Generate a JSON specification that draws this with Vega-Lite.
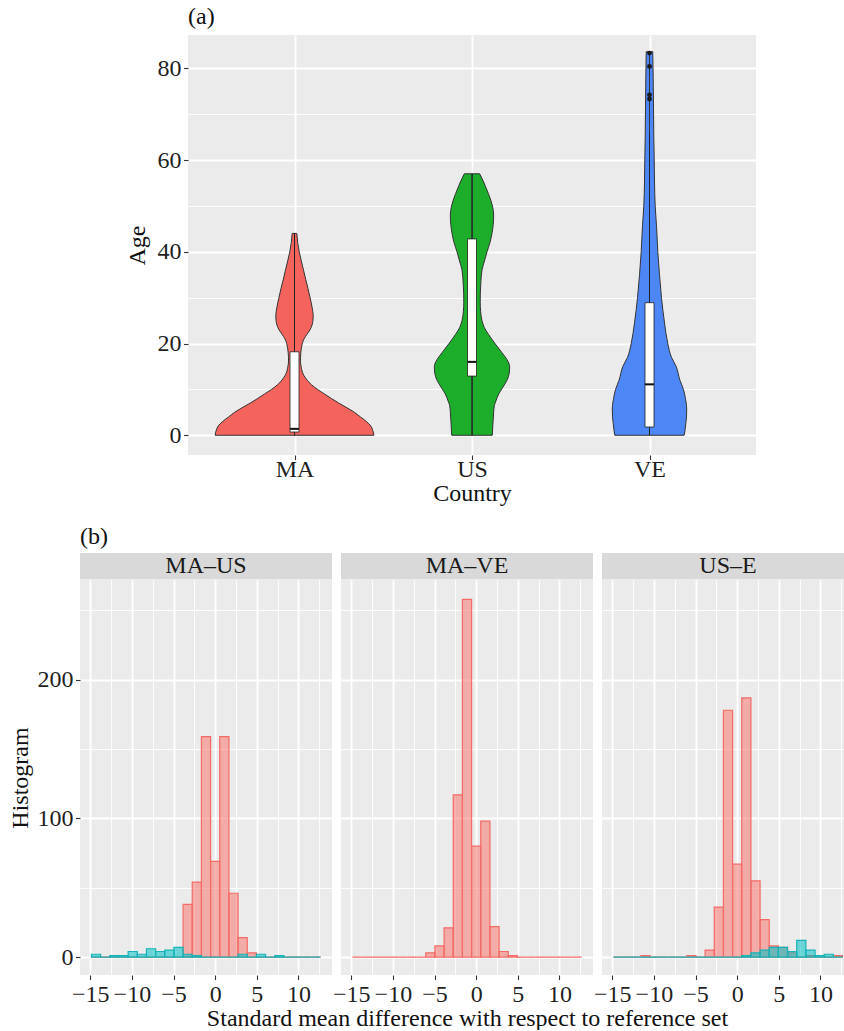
{
 "$schema": "https://vega.github.io/schema/vega-lite/v6.json",
 "padding": 0,
 "autosize": {"type": "pad"},
 "background": "#FFFFFF",
 "datasets": {
  "violin": [
   {"country":"MA","age":0,"w":0.994},{"country":"MA","age":1,"w":0.981},{"country":"MA","age":2,"w":0.956},{"country":"MA","age":3,"w":0.9},{"country":"MA","age":4,"w":0.825},{"country":"MA","age":5,"w":0.75},{"country":"MA","age":6,"w":0.656},{"country":"MA","age":7,"w":0.556},{"country":"MA","age":8,"w":0.463},{"country":"MA","age":9,"w":0.375},{"country":"MA","age":10,"w":0.288},{"country":"MA","age":11,"w":0.213},{"country":"MA","age":12,"w":0.159},{"country":"MA","age":13,"w":0.119},{"country":"MA","age":14,"w":0.094},{"country":"MA","age":15,"w":0.083},{"country":"MA","age":16,"w":0.075},{"country":"MA","age":17,"w":0.075},{"country":"MA","age":18,"w":0.079},{"country":"MA","age":19,"w":0.086},{"country":"MA","age":20,"w":0.098},{"country":"MA","age":21,"w":0.119},{"country":"MA","age":22,"w":0.156},{"country":"MA","age":23,"w":0.194},{"country":"MA","age":24,"w":0.219},{"country":"MA","age":25,"w":0.231},{"country":"MA","age":26,"w":0.234},{"country":"MA","age":27,"w":0.229},{"country":"MA","age":28,"w":0.219},{"country":"MA","age":29,"w":0.208},{"country":"MA","age":30,"w":0.195},{"country":"MA","age":32,"w":0.169},{"country":"MA","age":34,"w":0.14},{"country":"MA","age":36,"w":0.113},{"country":"MA","age":38,"w":0.085},{"country":"MA","age":40,"w":0.059},{"country":"MA","age":42,"w":0.04},{"country":"MA","age":44,"w":0.029},
   {"country":"US","age":0,"w":0.254},{"country":"US","age":2,"w":0.26},{"country":"US","age":3.5,"w":0.266},{"country":"US","age":5,"w":0.271},{"country":"US","age":6.5,"w":0.28},{"country":"US","age":7.5,"w":0.3},{"country":"US","age":9,"w":0.334},{"country":"US","age":10.5,"w":0.388},{"country":"US","age":12,"w":0.438},{"country":"US","age":13.5,"w":0.466},{"country":"US","age":15,"w":0.471},{"country":"US","age":16.5,"w":0.438},{"country":"US","age":18,"w":0.375},{"country":"US","age":20,"w":0.288},{"country":"US","age":22,"w":0.206},{"country":"US","age":23.5,"w":0.154},{"country":"US","age":25,"w":0.125},{"country":"US","age":27,"w":0.108},{"country":"US","age":29,"w":0.103},{"country":"US","age":31,"w":0.104},{"country":"US","age":33,"w":0.11},{"country":"US","age":36,"w":0.125},{"country":"US","age":38,"w":0.156},{"country":"US","age":40,"w":0.188},{"country":"US","age":42,"w":0.225},{"country":"US","age":44,"w":0.25},{"country":"US","age":46,"w":0.266},{"country":"US","age":48,"w":0.271},{"country":"US","age":50,"w":0.256},{"country":"US","age":52.5,"w":0.209},{"country":"US","age":54.5,"w":0.163},{"country":"US","age":56,"w":0.125},{"country":"US","age":57,"w":0.096},
   {"country":"VE","age":0,"w":0.434},{"country":"VE","age":1,"w":0.444},{"country":"VE","age":2.5,"w":0.454},{"country":"VE","age":4,"w":0.463},{"country":"VE","age":5.5,"w":0.466},{"country":"VE","age":6.5,"w":0.463},{"country":"VE","age":8,"w":0.45},{"country":"VE","age":10,"w":0.425},{"country":"VE","age":12,"w":0.381},{"country":"VE","age":15,"w":0.334},{"country":"VE","age":17,"w":0.275},{"country":"VE","age":20,"w":0.229},{"country":"VE","age":24.5,"w":0.188},{"country":"VE","age":30,"w":0.15},{"country":"VE","age":35,"w":0.125},{"country":"VE","age":40,"w":0.104},{"country":"VE","age":45.5,"w":0.088},{"country":"VE","age":50,"w":0.071},{"country":"VE","age":55,"w":0.063},{"country":"VE","age":60,"w":0.059},{"country":"VE","age":65,"w":0.054},{"country":"VE","age":71.5,"w":0.05},{"country":"VE","age":78,"w":0.046},{"country":"VE","age":83.6,"w":0.041}
  ],
  "box": [
   {"country":"MA","lo":0,"q1":0.7,"med":1.4,"q3":18.2,"hi":44},
   {"country":"US","lo":0,"q1":12.9,"med":16,"q3":42.8,"hi":57},
   {"country":"VE","lo":0,"q1":1.8,"med":11.1,"q3":28.9,"hi":65.8}
  ],
  "out": [
   {"country":"VE","age":83.3},{"country":"VE","age":80.4},{"country":"VE","age":74.2},{"country":"VE","age":73.3}
  ],
  "hist": [
   {"pair":"MA–US","sample":"before","lo":-14.85,"hi":-13.75,"n":0},{"pair":"MA–US","sample":"before","lo":-13.75,"hi":-12.65,"n":0},{"pair":"MA–US","sample":"before","lo":-12.65,"hi":-11.55,"n":0},{"pair":"MA–US","sample":"before","lo":-11.55,"hi":-10.45,"n":0},{"pair":"MA–US","sample":"before","lo":-10.45,"hi":-9.35,"n":0},{"pair":"MA–US","sample":"before","lo":-9.35,"hi":-8.25,"n":0},{"pair":"MA–US","sample":"before","lo":-8.25,"hi":-7.15,"n":0},{"pair":"MA–US","sample":"before","lo":-7.15,"hi":-6.05,"n":0},{"pair":"MA–US","sample":"before","lo":-6.05,"hi":-4.95,"n":0},{"pair":"MA–US","sample":"before","lo":-4.95,"hi":-3.85,"n":0},{"pair":"MA–US","sample":"before","lo":-3.85,"hi":-2.75,"n":38},{"pair":"MA–US","sample":"before","lo":-2.75,"hi":-1.65,"n":54},{"pair":"MA–US","sample":"before","lo":-1.65,"hi":-0.55,"n":159},{"pair":"MA–US","sample":"before","lo":-0.55,"hi":0.55,"n":69},{"pair":"MA–US","sample":"before","lo":0.55,"hi":1.65,"n":159},{"pair":"MA–US","sample":"before","lo":1.65,"hi":2.75,"n":46},{"pair":"MA–US","sample":"before","lo":2.75,"hi":3.85,"n":14},{"pair":"MA–US","sample":"before","lo":3.85,"hi":4.95,"n":3},{"pair":"MA–US","sample":"before","lo":4.95,"hi":6.05,"n":0},{"pair":"MA–US","sample":"before","lo":6.05,"hi":7.15,"n":0},{"pair":"MA–US","sample":"before","lo":7.15,"hi":8.25,"n":0},{"pair":"MA–US","sample":"before","lo":8.25,"hi":9.35,"n":0},{"pair":"MA–US","sample":"before","lo":9.35,"hi":10.45,"n":0},{"pair":"MA–US","sample":"before","lo":10.45,"hi":11.55,"n":0},{"pair":"MA–US","sample":"before","lo":11.55,"hi":12.65,"n":0},
   {"pair":"MA–VE","sample":"before","lo":-14.85,"hi":-13.75,"n":0},{"pair":"MA–VE","sample":"before","lo":-13.75,"hi":-12.65,"n":0},{"pair":"MA–VE","sample":"before","lo":-12.65,"hi":-11.55,"n":0},{"pair":"MA–VE","sample":"before","lo":-11.55,"hi":-10.45,"n":0},{"pair":"MA–VE","sample":"before","lo":-10.45,"hi":-9.35,"n":0},{"pair":"MA–VE","sample":"before","lo":-9.35,"hi":-8.25,"n":0},{"pair":"MA–VE","sample":"before","lo":-8.25,"hi":-7.15,"n":0},{"pair":"MA–VE","sample":"before","lo":-7.15,"hi":-6.05,"n":0},{"pair":"MA–VE","sample":"before","lo":-6.05,"hi":-4.95,"n":3},{"pair":"MA–VE","sample":"before","lo":-4.95,"hi":-3.85,"n":8},{"pair":"MA–VE","sample":"before","lo":-3.85,"hi":-2.75,"n":21},{"pair":"MA–VE","sample":"before","lo":-2.75,"hi":-1.65,"n":117},{"pair":"MA–VE","sample":"before","lo":-1.65,"hi":-0.55,"n":258},{"pair":"MA–VE","sample":"before","lo":-0.55,"hi":0.55,"n":80},{"pair":"MA–VE","sample":"before","lo":0.55,"hi":1.65,"n":98},{"pair":"MA–VE","sample":"before","lo":1.65,"hi":2.75,"n":22},{"pair":"MA–VE","sample":"before","lo":2.75,"hi":3.85,"n":4},{"pair":"MA–VE","sample":"before","lo":3.85,"hi":4.95,"n":1},{"pair":"MA–VE","sample":"before","lo":4.95,"hi":6.05,"n":0},{"pair":"MA–VE","sample":"before","lo":6.05,"hi":7.15,"n":0},{"pair":"MA–VE","sample":"before","lo":7.15,"hi":8.25,"n":0},{"pair":"MA–VE","sample":"before","lo":8.25,"hi":9.35,"n":0},{"pair":"MA–VE","sample":"before","lo":9.35,"hi":10.45,"n":0},{"pair":"MA–VE","sample":"before","lo":10.45,"hi":11.55,"n":0},{"pair":"MA–VE","sample":"before","lo":11.55,"hi":12.65,"n":0},
   {"pair":"US–E","sample":"before","lo":-14.85,"hi":-13.75,"n":0},{"pair":"US–E","sample":"before","lo":-13.75,"hi":-12.65,"n":0},{"pair":"US–E","sample":"before","lo":-12.65,"hi":-11.55,"n":0},{"pair":"US–E","sample":"before","lo":-11.55,"hi":-10.45,"n":1},{"pair":"US–E","sample":"before","lo":-10.45,"hi":-9.35,"n":0},{"pair":"US–E","sample":"before","lo":-9.35,"hi":-8.25,"n":0},{"pair":"US–E","sample":"before","lo":-8.25,"hi":-7.15,"n":0},{"pair":"US–E","sample":"before","lo":-7.15,"hi":-6.05,"n":0},{"pair":"US–E","sample":"before","lo":-6.05,"hi":-4.95,"n":1},{"pair":"US–E","sample":"before","lo":-4.95,"hi":-3.85,"n":0},{"pair":"US–E","sample":"before","lo":-3.85,"hi":-2.75,"n":5},{"pair":"US–E","sample":"before","lo":-2.75,"hi":-1.65,"n":36},{"pair":"US–E","sample":"before","lo":-1.65,"hi":-0.55,"n":178},{"pair":"US–E","sample":"before","lo":-0.55,"hi":0.55,"n":67},{"pair":"US–E","sample":"before","lo":0.55,"hi":1.65,"n":187},{"pair":"US–E","sample":"before","lo":1.65,"hi":2.75,"n":55},{"pair":"US–E","sample":"before","lo":2.75,"hi":3.85,"n":27},{"pair":"US–E","sample":"before","lo":3.85,"hi":4.95,"n":8},{"pair":"US–E","sample":"before","lo":4.95,"hi":6.05,"n":7},{"pair":"US–E","sample":"before","lo":6.05,"hi":7.15,"n":3},{"pair":"US–E","sample":"before","lo":7.15,"hi":8.25,"n":0},{"pair":"US–E","sample":"before","lo":8.25,"hi":9.35,"n":1},{"pair":"US–E","sample":"before","lo":9.35,"hi":10.45,"n":0},{"pair":"US–E","sample":"before","lo":10.45,"hi":11.55,"n":0},{"pair":"US–E","sample":"before","lo":11.55,"hi":12.65,"n":1},
   {"pair":"MA–US","sample":"after","lo":-14.85,"hi":-13.75,"n":2},{"pair":"MA–US","sample":"after","lo":-13.75,"hi":-12.65,"n":0},{"pair":"MA–US","sample":"after","lo":-12.65,"hi":-11.55,"n":1},{"pair":"MA–US","sample":"after","lo":-11.55,"hi":-10.45,"n":1},{"pair":"MA–US","sample":"after","lo":-10.45,"hi":-9.35,"n":4},{"pair":"MA–US","sample":"after","lo":-9.35,"hi":-8.25,"n":2},{"pair":"MA–US","sample":"after","lo":-8.25,"hi":-7.15,"n":6},{"pair":"MA–US","sample":"after","lo":-7.15,"hi":-6.05,"n":4},{"pair":"MA–US","sample":"after","lo":-6.05,"hi":-4.95,"n":5},{"pair":"MA–US","sample":"after","lo":-4.95,"hi":-3.85,"n":7},{"pair":"MA–US","sample":"after","lo":-3.85,"hi":-2.75,"n":2},{"pair":"MA–US","sample":"after","lo":-2.75,"hi":-1.65,"n":1},{"pair":"MA–US","sample":"after","lo":-1.65,"hi":-0.55,"n":0},{"pair":"MA–US","sample":"after","lo":-0.55,"hi":0.55,"n":0},{"pair":"MA–US","sample":"after","lo":0.55,"hi":1.65,"n":0},{"pair":"MA–US","sample":"after","lo":1.65,"hi":2.75,"n":0},{"pair":"MA–US","sample":"after","lo":2.75,"hi":3.85,"n":2},{"pair":"MA–US","sample":"after","lo":3.85,"hi":4.95,"n":0},{"pair":"MA–US","sample":"after","lo":4.95,"hi":6.05,"n":2},{"pair":"MA–US","sample":"after","lo":6.05,"hi":7.15,"n":0},{"pair":"MA–US","sample":"after","lo":7.15,"hi":8.25,"n":1},{"pair":"MA–US","sample":"after","lo":8.25,"hi":9.35,"n":0},{"pair":"MA–US","sample":"after","lo":9.35,"hi":10.45,"n":0},{"pair":"MA–US","sample":"after","lo":10.45,"hi":11.55,"n":0},{"pair":"MA–US","sample":"after","lo":11.55,"hi":12.65,"n":0},
   {"pair":"US–E","sample":"after","lo":-14.85,"hi":-13.75,"n":0},{"pair":"US–E","sample":"after","lo":-13.75,"hi":-12.65,"n":0},{"pair":"US–E","sample":"after","lo":-12.65,"hi":-11.55,"n":0},{"pair":"US–E","sample":"after","lo":-11.55,"hi":-10.45,"n":0},{"pair":"US–E","sample":"after","lo":-10.45,"hi":-9.35,"n":0},{"pair":"US–E","sample":"after","lo":-9.35,"hi":-8.25,"n":0},{"pair":"US–E","sample":"after","lo":-8.25,"hi":-7.15,"n":0},{"pair":"US–E","sample":"after","lo":-7.15,"hi":-6.05,"n":0},{"pair":"US–E","sample":"after","lo":-6.05,"hi":-4.95,"n":0},{"pair":"US–E","sample":"after","lo":-4.95,"hi":-3.85,"n":0},{"pair":"US–E","sample":"after","lo":-3.85,"hi":-2.75,"n":0},{"pair":"US–E","sample":"after","lo":-2.75,"hi":-1.65,"n":0},{"pair":"US–E","sample":"after","lo":-1.65,"hi":-0.55,"n":0},{"pair":"US–E","sample":"after","lo":-0.55,"hi":0.55,"n":0},{"pair":"US–E","sample":"after","lo":0.55,"hi":1.65,"n":1},{"pair":"US–E","sample":"after","lo":1.65,"hi":2.75,"n":3},{"pair":"US–E","sample":"after","lo":2.75,"hi":3.85,"n":5},{"pair":"US–E","sample":"after","lo":3.85,"hi":4.95,"n":7},{"pair":"US–E","sample":"after","lo":4.95,"hi":6.05,"n":7},{"pair":"US–E","sample":"after","lo":6.05,"hi":7.15,"n":4},{"pair":"US–E","sample":"after","lo":7.15,"hi":8.25,"n":12},{"pair":"US–E","sample":"after","lo":8.25,"hi":9.35,"n":5},{"pair":"US–E","sample":"after","lo":9.35,"hi":10.45,"n":1},{"pair":"US–E","sample":"after","lo":10.45,"hi":11.55,"n":2},{"pair":"US–E","sample":"after","lo":11.55,"hi":12.65,"n":0}
  ]
 },
 "vconcat": [
  {"width": 10, "height": 35, "data": {"values": [{}]}, "mark": {"type": "point", "opacity": 0}, "encoding": {}, "view": {"fill": null, "stroke": null}},
  {
   "hconcat": [
    {"width": 179, "height": 420, "data": {"values": [{}]}, "mark": {"type": "point", "opacity": 0}, "encoding": {}, "view": {"fill": null, "stroke": null}},
    {
     "width": 568, "height": 420,
     "view": {"fill": "#EBEBEB", "stroke": null},
     "title": {"text": "(a)", "offset": 6},
     "resolve": {"scale": {"x": "independent"}},
     "layer": [
      {"data": {"name": "violin"}, "transform": [{"filter": "datum.country === 'MA'"}],
       "mark": {"type": "area", "orient": "horizontal", "interpolate": "monotone", "fill": "#F4645D", "stroke": "#333333", "strokeWidth": 1, "strokeJoin": "round", "opacity": 1},
       "encoding": {
        "y": {"field": "age", "type": "quantitative", "title": "Age", "scale": {"domain": [-4.3, 87.25], "nice": false, "zero": false},
              "axis": {"values": [0,10,20,30,40,50,60,70,80], "format": "d", "labelExpr": "datum.value % 20 === 0 ? datum.label : ''",
                       "grid": true, "gridWidth": {"condition": {"test": "datum.value % 20 === 0", "value": 1.8}, "value": 0.9},
                       "tickOpacity": {"condition": {"test": "datum.value % 20 === 0", "value": 1}, "value": 0},
                       "title": "Age", "titlePadding": 8, "labelOverlap": false}},
        "x": {"field": "w", "type": "quantitative", "scale": {"domain": [-1.3333, 5.7778], "zero": true, "nice": false}, "axis": null}
       }},
      {"data": {"name": "violin"}, "transform": [{"filter": "datum.country === 'MA'"}],
       "mark": {"type": "area", "orient": "horizontal", "interpolate": "monotone", "fill": "#F4645D", "stroke": "#333333", "strokeWidth": 1, "strokeJoin": "round", "opacity": 1},
       "encoding": {
        "y": {"field": "age", "type": "quantitative", "title": "Age", "scale": {"domain": [-4.3, 87.25], "nice": false, "zero": false}},
        "x": {"field": "w", "type": "quantitative", "scale": {"domain": [-5.7778, 1.3333], "zero": true, "nice": false, "reverse": true}, "axis": null}
       }},
      {"data": {"name": "violin"}, "transform": [{"filter": "datum.country === 'US'"}],
       "mark": {"type": "area", "orient": "horizontal", "interpolate": "monotone", "fill": "#1CAE2A", "stroke": "#333333", "strokeWidth": 1, "strokeJoin": "round", "opacity": 1},
       "encoding": {
        "y": {"field": "age", "type": "quantitative", "title": "Age", "scale": {"domain": [-4.3, 87.25], "nice": false, "zero": false}},
        "x": {"field": "w", "type": "quantitative", "scale": {"domain": [-3.5556, 3.5556], "zero": true, "nice": false}, "axis": null}
       }},
      {"data": {"name": "violin"}, "transform": [{"filter": "datum.country === 'US'"}],
       "mark": {"type": "area", "orient": "horizontal", "interpolate": "monotone", "fill": "#1CAE2A", "stroke": "#333333", "strokeWidth": 1, "strokeJoin": "round", "opacity": 1},
       "encoding": {
        "y": {"field": "age", "type": "quantitative", "title": "Age", "scale": {"domain": [-4.3, 87.25], "nice": false, "zero": false}},
        "x": {"field": "w", "type": "quantitative", "scale": {"domain": [-3.5556, 3.5556], "zero": true, "nice": false, "reverse": true}, "axis": null}
       }},
      {"data": {"name": "violin"}, "transform": [{"filter": "datum.country === 'VE'"}],
       "mark": {"type": "area", "orient": "horizontal", "interpolate": "monotone", "fill": "#4D87F6", "stroke": "#333333", "strokeWidth": 1, "strokeJoin": "round", "opacity": 1},
       "encoding": {
        "y": {"field": "age", "type": "quantitative", "title": "Age", "scale": {"domain": [-4.3, 87.25], "nice": false, "zero": false}},
        "x": {"field": "w", "type": "quantitative", "scale": {"domain": [-5.7778, 1.3333], "zero": true, "nice": false}, "axis": null}
       }},
      {"data": {"name": "violin"}, "transform": [{"filter": "datum.country === 'VE'"}],
       "mark": {"type": "area", "orient": "horizontal", "interpolate": "monotone", "fill": "#4D87F6", "stroke": "#333333", "strokeWidth": 1, "strokeJoin": "round", "opacity": 1},
       "encoding": {
        "y": {"field": "age", "type": "quantitative", "title": "Age", "scale": {"domain": [-4.3, 87.25], "nice": false, "zero": false}},
        "x": {"field": "w", "type": "quantitative", "scale": {"domain": [-1.3333, 5.7778], "zero": true, "nice": false, "reverse": true}, "axis": null}
       }},
      {"data": {"name": "box"},
       "mark": {"type": "rule", "color": "#222222", "strokeWidth": 1},
       "encoding": {
        "x": {"field": "country", "type": "nominal", "scale": {"type": "point", "domain": ["MA","US","VE"], "padding": 0.6},
              "axis": {"title": "Country", "labelAngle": 0, "grid": true, "gridWidth": 1.8, "labelPadding": -2, "titlePadding": 0}},
        "y": {"field": "lo", "type": "quantitative", "title": "Age", "scale": {"domain": [-4.3, 87.25], "nice": false, "zero": false}},
        "y2": {"field": "hi"}
       }},
      {"data": {"name": "box"},
       "mark": {"type": "bar", "size": 9, "fill": "#FFFFFF", "stroke": "#222222", "strokeWidth": 0.8, "opacity": 1},
       "encoding": {
        "x": {"field": "country", "type": "nominal", "scale": {"type": "point", "domain": ["MA","US","VE"], "padding": 0.6}, "axis": null},
        "y": {"field": "q1", "type": "quantitative", "title": "Age", "scale": {"domain": [-4.3, 87.25], "nice": false, "zero": false}},
        "y2": {"field": "q3"}
       }},
      {"data": {"name": "box"},
       "mark": {"type": "tick", "size": 9, "thickness": 2, "color": "#111111", "opacity": 1},
       "encoding": {
        "x": {"field": "country", "type": "nominal", "scale": {"type": "point", "domain": ["MA","US","VE"], "padding": 0.6}, "axis": null},
        "y": {"field": "med", "type": "quantitative", "title": "Age", "scale": {"domain": [-4.3, 87.25], "nice": false, "zero": false}}
       }},
      {"data": {"name": "out"},
       "mark": {"type": "point", "filled": true, "color": "#1A1A1A", "size": 24, "opacity": 1},
       "encoding": {
        "x": {"field": "country", "type": "nominal", "scale": {"type": "point", "domain": ["MA","US","VE"], "padding": 0.6}, "axis": null},
        "y": {"field": "age", "type": "quantitative", "title": "Age", "scale": {"domain": [-4.3, 87.25], "nice": false, "zero": false}}
       }}
     ]
    }
   ],
   "spacing": 9, "bounds": "flush"
  },
  {"width": 10, "height": 518, "data": {"values": [{}]}, "mark": {"type": "point", "opacity": 0}, "encoding": {}, "view": {"fill": null, "stroke": null}},
  {
   "hconcat": [
    {"width": 71, "height": 26.5, "data": {"values": [{}]}, "mark": {"type": "point", "opacity": 0}, "encoding": {}, "view": {"fill": null, "stroke": null}},
    {"width": 252, "height": 26.5, "view": {"fill": "#D9D9D9", "stroke": null}, "title": {"text": "(b)", "offset": 4},
     "data": {"values": [{"label": "MA–US"}]},
     "mark": {"type": "text", "fontSize": 24, "font": "Liberation Serif", "color": "#1A1A1A", "baseline": "middle"},
     "encoding": {"text": {"field": "label"}}},
    {"width": 252, "height": 26.5, "view": {"fill": "#D9D9D9", "stroke": null}, "data": {"values": [{"label": "MA–VE"}]},
     "mark": {"type": "text", "fontSize": 24, "font": "Liberation Serif", "color": "#1A1A1A", "baseline": "middle"},
     "encoding": {"text": {"field": "label"}}},
    {"width": 242, "height": 26.5, "view": {"fill": "#D9D9D9", "stroke": null}, "data": {"values": [{"label": "US–E"}]},
     "mark": {"type": "text", "fontSize": 24, "font": "Liberation Serif", "color": "#1A1A1A", "baseline": "middle", "dx": 5},
     "encoding": {"text": {"field": "label"}}}
   ],
   "spacing": 9, "bounds": "flush"
  },
  {"width": 10, "height": 26.5, "data": {"values": [{}]}, "mark": {"type": "point", "opacity": 0}, "encoding": {}, "view": {"fill": null, "stroke": null}},
  {
   "hconcat": [
    {"width": 71, "height": 395, "data": {"values": [{}]}, "mark": {"type": "point", "opacity": 0}, "encoding": {}, "view": {"fill": null, "stroke": null}},
    {"width": 252, "height": 395, "view": {"fill": "#EBEBEB", "stroke": null},
     "data": {"name": "hist"}, "transform": [{"filter": "datum.pair === 'MA–US'"}],
     "mark": {"type": "rect", "fillOpacity": 0.55, "strokeWidth": 1.2},
     "encoding": {
      "x": {"field": "lo", "type": "quantitative", "scale": {"domain": [-16.225, 14.025], "nice": false, "zero": false},
            "axis": {"values": [-15,-12.5,-10,-7.5,-5,-2.5,0,2.5,5,7.5,10,12.5], "format": "d", "labelExpr": "datum.value % 5 === 0 ? datum.label : ''",
                     "grid": true, "gridWidth": {"condition": {"test": "datum.value % 5 === 0", "value": 1.8}, "value": 0.9},
                     "tickOpacity": {"condition": {"test": "datum.value % 5 === 0", "value": 1}, "value": 0},
                     "labelFlush": false, "labelOverlap": false, "labelBound": false, "title": null}},
      "x2": {"field": "hi"},
      "y": {"field": "n", "type": "quantitative", "scale": {"domain": [-12.95, 271.95], "nice": false, "zero": false},
            "axis": {"values": [0,50,100,150,200,250], "format": "d", "labelExpr": "datum.value % 100 === 0 ? datum.label : ''",
                     "grid": true, "gridWidth": {"condition": {"test": "datum.value % 100 === 0", "value": 1.8}, "value": 0.9},
                     "tickOpacity": {"condition": {"test": "datum.value % 100 === 0", "value": 1}, "value": 0},
                     "labelOverlap": false, "title": "Histogram", "titlePadding": 5}},
      "y2": {"datum": 0},
      "fill": {"field": "sample", "type": "nominal", "scale": {"domain": ["before","after"], "range": ["#F8766D","#00BFC4"]}, "legend": null},
      "stroke": {"field": "sample", "type": "nominal", "scale": {"domain": ["before","after"], "range": ["#F26B66","#14B4B8"]}, "legend": null}
     }},
    {"width": 252, "height": 395, "view": {"fill": "#EBEBEB", "stroke": null},
     "data": {"name": "hist"}, "transform": [{"filter": "datum.pair === 'MA–VE'"}],
     "mark": {"type": "rect", "fillOpacity": 0.55, "strokeWidth": 1.2},
     "encoding": {
      "x": {"field": "lo", "type": "quantitative", "scale": {"domain": [-16.225, 14.025], "nice": false, "zero": false},
            "axis": {"values": [-15,-12.5,-10,-7.5,-5,-2.5,0,2.5,5,7.5,10,12.5], "format": "d", "labelExpr": "datum.value % 5 === 0 ? datum.label : ''",
                     "grid": true, "gridWidth": {"condition": {"test": "datum.value % 5 === 0", "value": 1.8}, "value": 0.9},
                     "tickOpacity": {"condition": {"test": "datum.value % 5 === 0", "value": 1}, "value": 0},
                     "labelFlush": false, "labelOverlap": false, "labelBound": false,
                     "title": "Standard mean difference with respect to reference set", "titlePadding": 0}},
      "x2": {"field": "hi"},
      "y": {"field": "n", "type": "quantitative", "scale": {"domain": [-12.95, 271.95], "nice": false, "zero": false},
            "axis": {"values": [0,50,100,150,200,250], "labels": false, "ticks": false, "title": null,
                     "grid": true, "gridWidth": {"condition": {"test": "datum.value % 100 === 0", "value": 1.8}, "value": 0.9}}},
      "y2": {"datum": 0},
      "fill": {"field": "sample", "type": "nominal", "scale": {"domain": ["before","after"], "range": ["#F8766D","#00BFC4"]}, "legend": null},
      "stroke": {"field": "sample", "type": "nominal", "scale": {"domain": ["before","after"], "range": ["#F26B66","#14B4B8"]}, "legend": null}
     }},
    {"width": 242, "height": 395, "view": {"fill": "#EBEBEB", "stroke": null},
     "data": {"name": "hist"}, "transform": [{"filter": "datum.pair === 'US–E'"}],
     "mark": {"type": "rect", "fillOpacity": 0.55, "strokeWidth": 1.2},
     "encoding": {
      "x": {"field": "lo", "type": "quantitative", "scale": {"domain": [-16.225, 12.825], "nice": false, "zero": false},
            "axis": {"values": [-15,-12.5,-10,-7.5,-5,-2.5,0,2.5,5,7.5,10,12.5], "format": "d", "labelExpr": "datum.value % 5 === 0 ? datum.label : ''",
                     "grid": true, "gridWidth": {"condition": {"test": "datum.value % 5 === 0", "value": 1.8}, "value": 0.9},
                     "tickOpacity": {"condition": {"test": "datum.value % 5 === 0", "value": 1}, "value": 0},
                     "labelFlush": false, "labelOverlap": false, "labelBound": false, "title": null}},
      "x2": {"field": "hi"},
      "y": {"field": "n", "type": "quantitative", "scale": {"domain": [-12.95, 271.95], "nice": false, "zero": false},
            "axis": {"values": [0,50,100,150,200,250], "labels": false, "ticks": false, "title": null,
                     "grid": true, "gridWidth": {"condition": {"test": "datum.value % 100 === 0", "value": 1.8}, "value": 0.9}}},
      "y2": {"datum": 0},
      "fill": {"field": "sample", "type": "nominal", "scale": {"domain": ["before","after"], "range": ["#F8766D","#00BFC4"]}, "legend": null},
      "stroke": {"field": "sample", "type": "nominal", "scale": {"domain": ["before","after"], "range": ["#F26B66","#14B4B8"]}, "legend": null}
     }}
   ],
   "spacing": 9, "bounds": "flush",
   "resolve": {"scale": {"x": "independent", "y": "independent"}}
  }
 ],
 "spacing": 0,
 "bounds": "flush",
 "resolve": {"scale": {"x": "independent", "y": "independent"}},
 "config": {
  "font": "Liberation Serif",
  "view": {"stroke": null},
  "axis": {
   "domain": false, "tickColor": "#333333", "tickSize": 4.5, "tickWidth": 1.1, "labelPadding": 2.5,
   "labelFont": "Liberation Serif", "titleFont": "Liberation Serif", "labelFontSize": 24, "titleFontSize": 24,
   "titleFontWeight": "normal", "labelColor": "#1F1F1F", "titleColor": "#111111", "gridColor": "#FFFFFF"
  },
  "title": {"font": "Liberation Serif", "fontSize": 24, "fontWeight": "normal", "color": "#111111", "anchor": "start", "frame": "group", "baseline": "bottom"}
 }
}
